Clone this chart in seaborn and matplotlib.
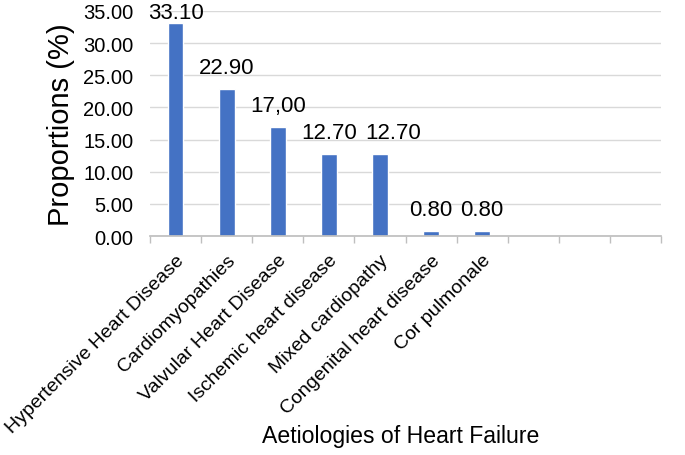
import matplotlib
matplotlib.use("Agg")
import matplotlib.pyplot as plt
import numpy as np
import pandas as pd
import seaborn as sns

# data
categories = [
    "Hypertensive Heart Disease",
    "Cardiomyopathies",
    "Valvular Heart Disease",
    "Ischemic heart disease",
    "Mixed cardiopathy",
    "Congenital heart disease",
    "Cor pulmonale",
]
proportions = [33.10, 22.90, 17.00, 12.70, 12.70, 0.80, 0.80]
value_labels = ["33.10", "22.90", "17,00", "12.70", "12.70", "0.80", "0.80"]
n_slots = 10  # axis has three empty category slots on the right

sns.set_theme(style="white")
plt.rcParams['font.family'] = ['Liberation Sans', 'DejaVu Sans']
plt.rcParams['text.color'] = 'black'
plt.rcParams['axes.labelcolor'] = 'black'
plt.rcParams['xtick.color'] = 'black'
plt.rcParams['ytick.color'] = 'black'

df = pd.DataFrame({"cat": categories, "val": proportions})

fig = plt.figure(figsize=(6.85, 4.56), dpi=100)
ax = fig.add_axes([0.219, 0.480, 0.746, 0.494])

sns.barplot(data=df, x="cat", y="val", color="#4472C4", width=0.31,
            saturation=1, ax=ax)

ax.set_xlim(-0.5, n_slots - 0.5)
ax.set_ylim(0, 35)
yt = np.arange(0, 35.1, 5)
ax.set_yticks(yt)
ax.set_yticklabels([f"{v:.2f}" for v in yt], fontsize=14.5)
ax.yaxis.grid(True, color="#d9d9d9", linewidth=1)
ax.set_axisbelow(True)

# category labels, rotated, without major tick marks
ax.set_xticks(range(len(categories)))
ax.set_xticklabels(categories, rotation=45, ha="right", rotation_mode="anchor",
                   fontsize=14)
ax.tick_params(axis="x", which="major", length=0, pad=11)
ax.tick_params(axis="y", length=0, pad=12)
ax.set_xticks(np.arange(-0.5, n_slots, 1), minor=True)
ax.tick_params(axis="x", which="minor", length=5, color="#bfbfbf", width=1,
               direction="out", bottom=True)

for s in ["top", "right", "left"]:
    ax.spines[s].set_visible(False)
ax.spines["bottom"].set_color("#bfbfbf")

# value labels; the second 12.70 is nudged right as in the original
for i, (v, lab) in enumerate(zip(proportions, value_labels)):
    dx = 0.25 if i == 4 else 0
    ax.text(i + dx, min(v + 2.5, 33.9), lab, ha="center", va="baseline",
            fontsize=16, clip_on=False)

ax.set_ylabel("Proportions (%)", fontsize=21, labelpad=6)
ax.set_xlabel("")
fig.text(0.585, 0.042, "Aetiologies of Heart Failure", ha="center",
         va="center", fontsize=16.6)

fig.savefig("out.png", dpi=100)
